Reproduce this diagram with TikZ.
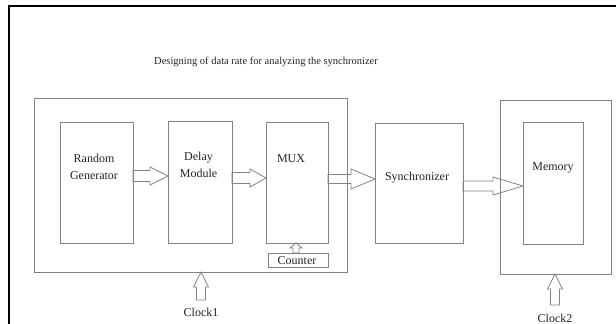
\documentclass[tikz,border=0pt]{standalone}
\usepackage{fontspec}
\setmainfont{Liberation Serif}
\usetikzlibrary{calc}
\definecolor{lc}{RGB}{130,130,130}
\definecolor{tc}{RGB}{35,35,35}
\tikzset{
  box/.style={draw=lc, line width=0.8pt, inner sep=0pt, outer sep=0pt, rectangle},
  lbl/.style={text=tc, font=\fontsize{12}{17}\selectfont, align=center, inner sep=0pt},
  arr/.style={draw=lc, line width=0.8pt, line join=miter},
  harrow/.style n args={3}{to path={let \p1=(\tikztostart),\p2=(\tikztotarget) in
    (\x1,\y1+#1) -- (\x2-#3,\y1+#1) -- (\x2-#3,\y1+#2) -- (\x2,\y1) -- (\x2-#3,\y1-#2) -- (\x2-#3,\y1-#1) -- (\x1,\y1-#1) -- cycle}},
  varrow/.style n args={3}{to path={let \p1=(\tikztostart),\p2=(\tikztotarget) in
    (\x1+#1,\y1) -- (\x1+#1,\y2-#3) -- (\x1+#2,\y2-#3) -- (\x1,\y2) -- (\x1-#2,\y2-#3) -- (\x1-#1,\y2-#3) -- (\x1-#1,\y1) -- cycle}}
}
\begin{document}
\begin{tikzpicture}[x=1pt,y=1pt]
\useasboundingbox (0,0) rectangle (616,-324);
% page frame
\draw[line width=2pt] (9,-324) -- (9,-6) -- (616,-6);
% title
\node[text=tc, font=\fontsize{10.5}{12}\selectfont, inner sep=0pt] (title) at (266,-62) {Designing of data rate for analyzing the synchronizer};
% boxes
\node[box, minimum width=313pt, minimum height=174pt] (outer) at (190.5,-185) {};
\node[box, minimum width=73pt, minimum height=121pt] (rg) at (96.5,-182.5) {};
\node[box, minimum width=64pt, minimum height=122pt] (dm) at (200,-182) {};
\node[box, minimum width=62pt, minimum height=121pt] (mux) at (297,-182.5) {};
\node[box, minimum width=60pt, minimum height=14pt] (cnt) at (298,-260) {};
\node[box, minimum width=88pt, minimum height=120pt] (sync) at (419,-183) {};
\node[box, minimum width=111pt, minimum height=174pt] (memout) at (555.5,-187) {};
\node[box, minimum width=60pt, minimum height=122pt] (mem) at (553,-183) {};
% labels
\node[lbl] (rgt) at (94,-166.5) {Random\\Generator};
\node[lbl] (dmt) at (198.5,-164.5) {Delay\\Module};
\node[lbl] (muxt) at (291,-159) {MUX};
\node[lbl] (cntt) at (297,-261) {Counter};
\node[lbl] (synct) at (417,-178) {Synchronizer};
\node[lbl] (memt) at (553,-168) {Memory};
\node[lbl] (clk1) at (201,-312.5) {Clock1};
\node[lbl] (clk2) at (555,-318.5) {Clock2};
% clock arrow feet
\coordinate (c1) at (201,-300);
\coordinate (c2) at (555,-305);
% block arrows
\draw[arr] ([yshift=6.5pt]rg.east) to[harrow={5.5pt}{9pt}{18pt}] ([yshift=6.5pt]dm.west);
\draw[arr] ([yshift=4pt]dm.east) to[harrow={5.5pt}{9pt}{16pt}] ([yshift=4pt]mux.west);
\draw[arr] ([yshift=3.5pt]mux.east) to[harrow={4.5pt}{10pt}{24pt}] ([yshift=3.5pt]sync.west);
\draw[arr] ([yshift=-3pt]sync.east) to[harrow={5pt}{9pt}{30pt}] ([yshift=-3pt]mem.west);
\draw[arr] ([xshift=-2pt]cnt.north) to[varrow={3pt}{6pt}{5pt}] ([xshift=-2pt]mux.south);
\draw[arr] (c1) to[varrow={4.5pt}{7.5pt}{15pt}] (c1 |- outer.south);
\draw[arr] (c2) to[varrow={4.5pt}{7.5pt}{15pt}] (c2 |- memout.south);
\end{tikzpicture}
\end{document}
